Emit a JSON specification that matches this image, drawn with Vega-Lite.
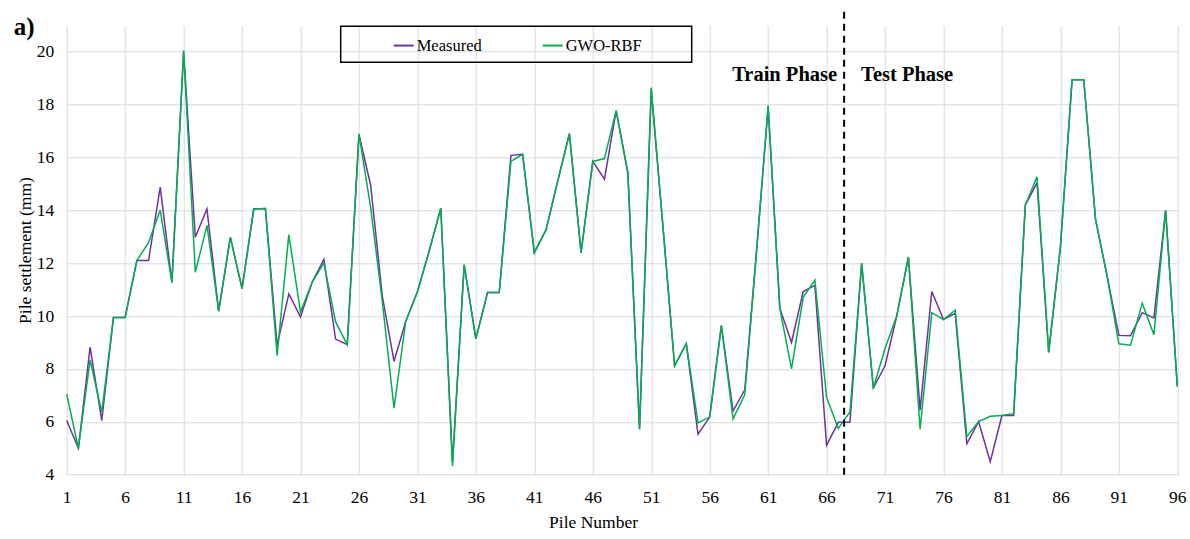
{
  "$schema": "https://vega.github.io/schema/vega-lite/v6.json",
  "width": 1110.6,
  "height": 449.4,
  "autosize": {"type": "none"},
  "padding": {"left": 66.7, "top": 25.3, "right": 12.7, "bottom": 64.3},
  "background": "white",
  "title": {
    "text": "a)",
    "anchor": "start",
    "frame": "group",
    "font": "Liberation Serif",
    "fontSize": 25,
    "fontWeight": "bold",
    "color": "black",
    "dx": -53,
    "offset": 0,
    "baseline": "alphabetic",
    "dy": 54
  },
  "config": {
    "view": {"stroke": null},
    "font": "Liberation Serif"
  },
  "layer": [
    {
      "data": {
        "values": [
          {"pile": 1, "Measured": 6.05, "GWO-RBF": 7.05},
          {"pile": 2, "Measured": 5.0, "GWO-RBF": 5.0},
          {"pile": 3, "Measured": 8.83, "GWO-RBF": 8.34},
          {"pile": 4, "Measured": 6.05, "GWO-RBF": 6.37},
          {"pile": 5, "Measured": 9.95, "GWO-RBF": 9.95},
          {"pile": 6, "Measured": 9.95, "GWO-RBF": 9.95},
          {"pile": 7, "Measured": 12.1, "GWO-RBF": 12.1},
          {"pile": 8, "Measured": 12.1, "GWO-RBF": 12.78},
          {"pile": 9, "Measured": 14.88, "GWO-RBF": 14.01},
          {"pile": 10, "Measured": 11.27, "GWO-RBF": 11.27},
          {"pile": 11, "Measured": 20.0, "GWO-RBF": 20.05},
          {"pile": 12, "Measured": 12.98, "GWO-RBF": 11.66},
          {"pile": 13, "Measured": 14.05, "GWO-RBF": 13.43},
          {"pile": 14, "Measured": 10.19, "GWO-RBF": 10.19},
          {"pile": 15, "Measured": 12.98, "GWO-RBF": 12.98},
          {"pile": 16, "Measured": 11.04, "GWO-RBF": 11.04},
          {"pile": 17, "Measured": 14.05, "GWO-RBF": 14.05},
          {"pile": 18, "Measured": 14.07, "GWO-RBF": 14.07},
          {"pile": 19, "Measured": 8.9, "GWO-RBF": 8.51},
          {"pile": 20, "Measured": 10.84, "GWO-RBF": 13.08},
          {"pile": 21, "Measured": 9.97, "GWO-RBF": 10.15},
          {"pile": 22, "Measured": 11.29, "GWO-RBF": 11.29},
          {"pile": 23, "Measured": 12.14, "GWO-RBF": 12.0},
          {"pile": 24, "Measured": 9.13, "GWO-RBF": 9.78},
          {"pile": 25, "Measured": 8.92, "GWO-RBF": 8.92},
          {"pile": 26, "Measured": 16.86, "GWO-RBF": 16.9},
          {"pile": 27, "Measured": 14.95, "GWO-RBF": 14.1},
          {"pile": 28, "Measured": 10.75, "GWO-RBF": 10.55},
          {"pile": 29, "Measured": 8.29, "GWO-RBF": 6.52},
          {"pile": 30, "Measured": 9.8, "GWO-RBF": 9.8},
          {"pile": 31, "Measured": 10.92, "GWO-RBF": 10.92},
          {"pile": 32, "Measured": 12.45, "GWO-RBF": 12.45},
          {"pile": 33, "Measured": 14.08, "GWO-RBF": 14.08},
          {"pile": 34, "Measured": 4.45, "GWO-RBF": 4.33},
          {"pile": 35, "Measured": 11.94, "GWO-RBF": 11.94},
          {"pile": 36, "Measured": 9.14, "GWO-RBF": 9.14},
          {"pile": 37, "Measured": 10.89, "GWO-RBF": 10.89},
          {"pile": 38, "Measured": 10.89, "GWO-RBF": 10.89},
          {"pile": 39, "Measured": 16.08, "GWO-RBF": 15.85},
          {"pile": 40, "Measured": 16.12, "GWO-RBF": 16.12},
          {"pile": 41, "Measured": 12.4, "GWO-RBF": 12.4},
          {"pile": 42, "Measured": 13.26, "GWO-RBF": 13.26},
          {"pile": 43, "Measured": 15.1, "GWO-RBF": 15.1},
          {"pile": 44, "Measured": 16.9, "GWO-RBF": 16.9},
          {"pile": 45, "Measured": 12.4, "GWO-RBF": 12.4},
          {"pile": 46, "Measured": 15.85, "GWO-RBF": 15.85},
          {"pile": 47, "Measured": 15.18, "GWO-RBF": 15.96},
          {"pile": 48, "Measured": 17.77, "GWO-RBF": 17.77},
          {"pile": 49, "Measured": 15.4, "GWO-RBF": 15.45},
          {"pile": 50, "Measured": 5.72, "GWO-RBF": 5.72},
          {"pile": 51, "Measured": 18.55, "GWO-RBF": 18.64},
          {"pile": 52, "Measured": 13.4, "GWO-RBF": 13.4},
          {"pile": 53, "Measured": 8.12, "GWO-RBF": 8.12},
          {"pile": 54, "Measured": 8.96, "GWO-RBF": 8.96},
          {"pile": 55, "Measured": 5.53, "GWO-RBF": 5.96},
          {"pile": 56, "Measured": 6.18, "GWO-RBF": 6.18},
          {"pile": 57, "Measured": 9.64, "GWO-RBF": 9.64},
          {"pile": 58, "Measured": 6.41, "GWO-RBF": 6.11},
          {"pile": 59, "Measured": 7.21, "GWO-RBF": 7.02},
          {"pile": 60, "Measured": 12.4, "GWO-RBF": 12.4},
          {"pile": 61, "Measured": 17.9, "GWO-RBF": 17.97},
          {"pile": 62, "Measured": 10.3, "GWO-RBF": 10.3},
          {"pile": 63, "Measured": 9.0, "GWO-RBF": 8.0},
          {"pile": 64, "Measured": 10.93, "GWO-RBF": 10.71},
          {"pile": 65, "Measured": 11.16, "GWO-RBF": 11.36},
          {"pile": 66, "Measured": 5.11, "GWO-RBF": 6.93},
          {"pile": 67, "Measured": 5.98, "GWO-RBF": 5.75},
          {"pile": 68, "Measured": 5.98, "GWO-RBF": 6.37},
          {"pile": 69, "Measured": 12.0, "GWO-RBF": 12.0},
          {"pile": 70, "Measured": 7.28, "GWO-RBF": 7.28},
          {"pile": 71, "Measured": 8.12, "GWO-RBF": 8.77},
          {"pile": 72, "Measured": 10.0, "GWO-RBF": 10.0},
          {"pile": 73, "Measured": 12.23, "GWO-RBF": 12.23},
          {"pile": 74, "Measured": 6.44, "GWO-RBF": 5.72},
          {"pile": 75, "Measured": 10.93, "GWO-RBF": 10.13},
          {"pile": 76, "Measured": 9.87, "GWO-RBF": 9.87},
          {"pile": 77, "Measured": 10.1, "GWO-RBF": 10.22},
          {"pile": 78, "Measured": 5.17, "GWO-RBF": 5.44},
          {"pile": 79, "Measured": 6.01, "GWO-RBF": 6.01},
          {"pile": 80, "Measured": 4.49, "GWO-RBF": 6.21},
          {"pile": 81, "Measured": 6.24, "GWO-RBF": 6.24},
          {"pile": 82, "Measured": 6.24, "GWO-RBF": 6.31},
          {"pile": 83, "Measured": 14.2, "GWO-RBF": 14.2},
          {"pile": 84, "Measured": 15.05, "GWO-RBF": 15.27},
          {"pile": 85, "Measured": 8.63, "GWO-RBF": 8.63},
          {"pile": 86, "Measured": 12.6, "GWO-RBF": 12.6},
          {"pile": 87, "Measured": 18.94, "GWO-RBF": 18.94},
          {"pile": 88, "Measured": 18.94, "GWO-RBF": 18.94},
          {"pile": 89, "Measured": 13.68, "GWO-RBF": 13.68},
          {"pile": 90, "Measured": 11.5, "GWO-RBF": 11.5},
          {"pile": 91, "Measured": 9.27, "GWO-RBF": 8.95},
          {"pile": 92, "Measured": 9.26, "GWO-RBF": 8.9},
          {"pile": 93, "Measured": 10.13, "GWO-RBF": 10.49},
          {"pile": 94, "Measured": 9.93, "GWO-RBF": 9.29},
          {"pile": 95, "Measured": 14.0, "GWO-RBF": 14.0},
          {"pile": 96, "Measured": 7.34, "GWO-RBF": 7.34}
        ]
      },
      "transform": [{"fold": ["Measured", "GWO-RBF"], "as": ["series", "value"]}],
      "mark": {"type": "line", "strokeWidth": 1.5},
      "encoding": {
        "x": {
          "field": "pile",
          "type": "quantitative",
          "scale": {"domain": [1, 96], "nice": false, "zero": false},
          "axis": {
            "title": "Pile Number",
            "values": [1, 6, 11, 16, 21, 26, 31, 36, 41, 46, 51, 56, 61, 66, 71, 76, 81, 86, 91, 96],
            "domain": false,
            "ticks": false,
            "grid": true,
            "gridColor": "#D9D9D9",
            "gridWidth": 1,
            "labelFont": "Liberation Serif",
            "labelFontSize": 17.5,
            "labelColor": "black",
            "labelPadding": 14,
            "labelFlush": false,
            "titleFont": "Liberation Serif",
            "titleFontSize": 17.5,
            "titleFontWeight": "normal",
            "titleColor": "black",
            "titleX": 526.3,
            "titleY": 53,
            "titleAlign": "center",
            "titleBaseline": "alphabetic"
          }
        },
        "y": {
          "field": "value",
          "type": "quantitative",
          "scale": {"domain": [4, 21], "nice": false, "zero": false},
          "axis": {
            "title": "Pile settlement (mm)",
            "values": [4, 6, 8, 10, 12, 14, 16, 18, 20],
            "domain": false,
            "ticks": false,
            "grid": true,
            "gridColor": "#D9D9D9",
            "gridWidth": 1,
            "labelFont": "Liberation Serif",
            "labelFontSize": 17.5,
            "labelColor": "black",
            "labelPadding": 13,
            "labelFlush": false,
            "titleFont": "Liberation Serif",
            "titleFontSize": 17.5,
            "titleFontWeight": "normal",
            "titleColor": "black",
            "titleAngle": -90,
            "titleX": -41,
            "titleY": 224.7,
            "titleAlign": "center",
            "titleBaseline": "middle"
          }
        },
        "color": {
          "field": "series",
          "type": "nominal",
          "sort": ["Measured", "GWO-RBF"],
          "scale": {"domain": ["Measured", "GWO-RBF"], "range": ["#7030A0", "#00B050"]},
          "legend": {
            "title": "\u00a0",
            "titleOrient": "left",
            "titlePadding": 44,
            "titleFontSize": 4,
            "orient": "none",
            "legendX": 274,
            "legendY": 1,
            "direction": "horizontal",
            "symbolType": "stroke",
            "symbolSize": 400,
            "symbolStrokeWidth": 2,
            "labelFont": "Liberation Serif",
            "labelFontSize": 16.5,
            "labelColor": "black",
            "labelOffset": 2,
            "columnPadding": 56,
            "padding": 8,
            "strokeColor": "black",
            "labelExpr": "datum.label == 'GWO-RBF' ? 'GWO-RBF\u00a0\u00a0\u00a0\u00a0\u00a0\u00a0\u00a0\u00a0\u00a0\u00a0\u200b' : datum.label",
            "labelLimit": 400,
            "encode": {"legend": {"update": {"strokeWidth": {"value": 1.5}}}}
          }
        }
      }
    },
    {
      "data": {"values": [{}]},
      "mark": {"type": "rule", "strokeDash": [7, 5], "strokeWidth": 2, "color": "black"},
      "encoding": {
        "x": {"datum": 67.5, "type": "quantitative", "scale": {"domain": [1, 96], "nice": false, "zero": false}},
        "y": {"datum": 4, "type": "quantitative", "scale": {"domain": [4, 21], "nice": false, "zero": false}},
        "y2": {"datum": 21.7}
      }
    },
    {
      "data": {"values": [{}]},
      "mark": {"type": "text", "text": "Train Phase", "align": "right", "baseline": "alphabetic", "dx": -7, "font": "Liberation Serif", "fontSize": 20.5, "fontWeight": "bold", "color": "black"},
      "encoding": {
        "x": {"datum": 67.5, "type": "quantitative", "scale": {"domain": [1, 96], "nice": false, "zero": false}},
        "y": {"datum": 18.9, "type": "quantitative", "scale": {"domain": [4, 21], "nice": false, "zero": false}}
      }
    },
    {
      "data": {"values": [{}]},
      "mark": {"type": "text", "text": "Test Phase", "align": "left", "baseline": "alphabetic", "dx": 17, "font": "Liberation Serif", "fontSize": 20.5, "fontWeight": "bold", "color": "black"},
      "encoding": {
        "x": {"datum": 67.5, "type": "quantitative", "scale": {"domain": [1, 96], "nice": false, "zero": false}},
        "y": {"datum": 18.9, "type": "quantitative", "scale": {"domain": [4, 21], "nice": false, "zero": false}}
      }
    }
  ]
}
